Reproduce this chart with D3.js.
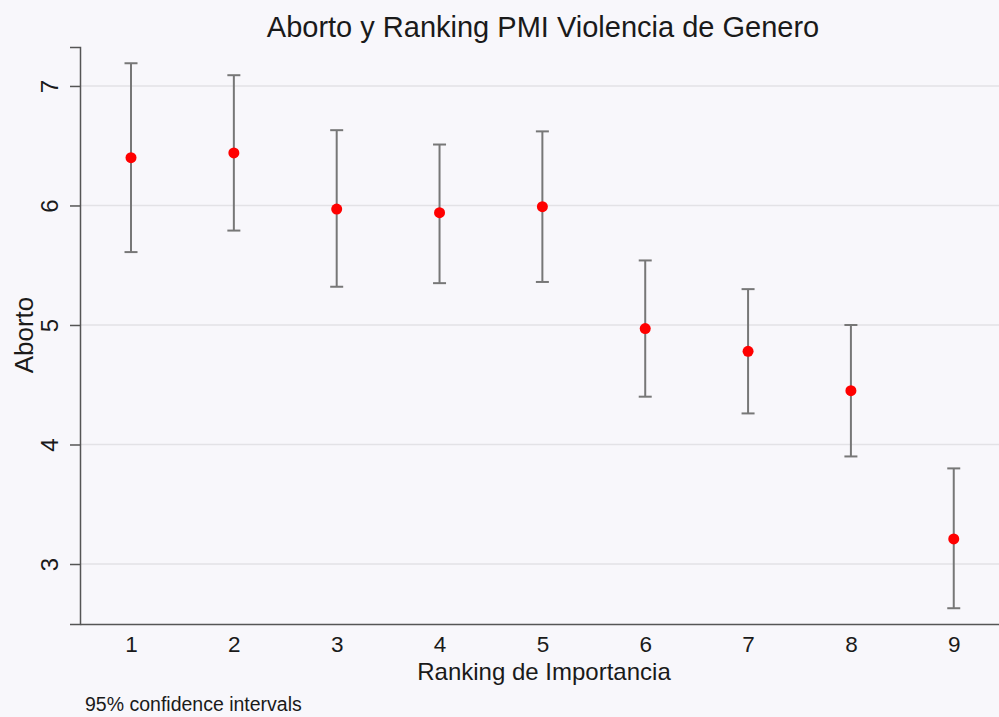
<!DOCTYPE html>
<head>
  <meta charset="utf-8">
  <script src="https://d3js.org/d3.v7.min.js"></script>
  <style>
    body { margin:0; background:#f8f7fb; }
    text { font-family: "Liberation Sans", Arial, sans-serif; fill:#1a1a1a; }
  </style>
</head>
<body>
<script>

/* Data */
/* ==== */

var ranks = [1, 2, 3, 4, 5, 6, 7, 8, 9];
var means = [6.40, 6.44, 5.97, 5.94, 5.99, 4.97, 4.78, 4.45, 3.21];
var upper = [7.19, 7.09, 6.63, 6.51, 6.62, 5.54, 5.30, 5.00, 3.80];
var lower = [5.61, 5.79, 5.32, 5.35, 5.36, 4.40, 4.26, 3.90, 2.63];
var yTicks = [3, 4, 5, 6, 7];

var rows = ranks.map(function(r, i) {
  return { rank: r, mean: means[i], hi: upper[i], lo: lower[i] };
});

/* Set up */
/* ====== */

var width = 999,
    height = 717;

var svg = d3.select('body')
  .append('svg')
    .attr('width', width)
    .attr('height', height);

var x = d3.scaleLinear()
    .domain([0.504, 9.44])
    .range([80, 999]);

var y = d3.scaleLinear()
    .domain([2.498, 7.326])
    .range([624, 47]);

// gridlines
svg.selectAll('.grid')
    .data(yTicks)
    .enter()
  .append('line')
    .attr('class', 'grid')
    .attr('x1', 80)
    .attr('x2', 999)
    .attr('y1', function(d) { return y(d); })
    .attr('y2', function(d) { return y(d); })
    .attr('stroke', '#e3e2e6')
    .attr('stroke-width', 1.5);

// y axis
var yAxis = svg.append('g')
    .attr('transform', 'translate(80,0)')
    .call(d3.axisLeft(y).tickValues(yTicks).tickFormat(d3.format('d')).tickSize(10));

yAxis.select('.domain').attr('stroke', '#555').attr('stroke-width', 1.5);
yAxis.selectAll('.tick line').attr('stroke', '#555').attr('stroke-width', 1.5);
yAxis.selectAll('.tick text')
    .attr('font-size', 24)
    .attr('fill', '#1a1a1a')
    .attr('x', 0)
    .attr('y', 0)
    .attr('dy', null)
    .attr('text-anchor', 'middle')
    .attr('transform', 'translate(-22,0) rotate(-90)');

// x axis
var xAxis = svg.append('g')
    .attr('transform', 'translate(0,624)')
    .call(d3.axisBottom(x).tickValues(ranks).tickSize(0));

xAxis.select('.domain').attr('stroke', '#555').attr('stroke-width', 1.5);
xAxis.selectAll('.tick text')
    .attr('font-size', 22.5)
    .attr('fill', '#1a1a1a')
    .attr('y', 28)
    .attr('dy', null);

// error bars
var bars = svg.selectAll('.ci')
    .data(rows)
    .enter()
  .append('g')
    .attr('class', 'ci')
    .attr('stroke', '#777')
    .attr('stroke-width', 2);

bars.append('line')
    .attr('x1', function(d) { return x(d.rank); })
    .attr('x2', function(d) { return x(d.rank); })
    .attr('y1', function(d) { return y(d.hi); })
    .attr('y2', function(d) { return y(d.lo); });

bars.append('line')
    .attr('x1', function(d) { return x(d.rank) - 6.5; })
    .attr('x2', function(d) { return x(d.rank) + 6.5; })
    .attr('y1', function(d) { return y(d.hi); })
    .attr('y2', function(d) { return y(d.hi); });

bars.append('line')
    .attr('x1', function(d) { return x(d.rank) - 6.5; })
    .attr('x2', function(d) { return x(d.rank) + 6.5; })
    .attr('y1', function(d) { return y(d.lo); })
    .attr('y2', function(d) { return y(d.lo); });

// points
svg.selectAll('.pt')
    .data(rows)
    .enter()
  .append('circle')
    .attr('class', 'pt')
    .attr('cx', function(d) { return x(d.rank); })
    .attr('cy', function(d) { return y(d.mean); })
    .attr('r', 5.5)
    .attr('fill', '#ff0000');

// titles
svg.append('text')
    .attr('x', 543)
    .attr('y', 37)
    .attr('text-anchor', 'middle')
    .attr('font-size', 29)
    .text('Aborto y Ranking PMI Violencia de Genero');

svg.append('text')
    .attr('x', 544)
    .attr('y', 680)
    .attr('text-anchor', 'middle')
    .attr('font-size', 24)
    .text('Ranking de Importancia');

svg.append('text')
    .attr('transform', 'translate(33,335) rotate(-90)')
    .attr('text-anchor', 'middle')
    .attr('font-size', 26)
    .text('Aborto');

svg.append('text')
    .attr('x', 85)
    .attr('y', 711)
    .attr('font-size', 19.5)
    .attr('fill', '#333')
    .text('95% confidence intervals');

</script>
</body>
